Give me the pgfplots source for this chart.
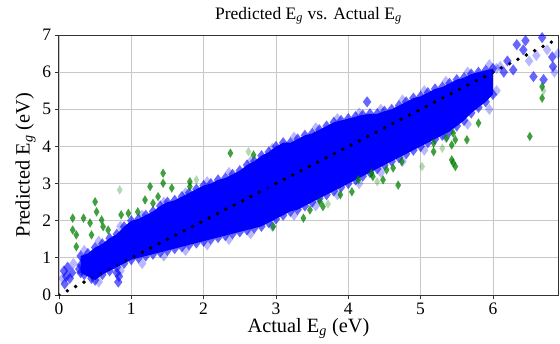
\documentclass[border=0pt]{standalone}
\usepackage{pgfplots}
\pgfplotsset{compat=1.18}
\usepackage{fontspec}
\setmainfont{Liberation Serif}
\definecolor{gridgray}{RGB}{200,200,200}
\definecolor{mgreen}{RGB}{0,128,0}
\newcommand{\Eg}{E\textsubscript{\textit{g}}}
\begin{document}
\begin{tikzpicture}
\begin{axis}[
  scale only axis,
  width=356.4pt, height=185.7pt,
  xmin=0, xmax=6.9, ymin=0, ymax=7,
  xtick={0,1,2,3,4,5,6}, ytick={0,1,2,3,4,5,6,7},
  grid=major,
  grid style={gridgray, line width=0.6pt},
  axis line style={black!80, line width=0.7pt},
  tick align=outside, tick pos=left,
  major tick length=3pt,
  tick style={black!80, line width=0.6pt},
  /pgf/number format/assume math mode=true,
  tick label style={font=\fontsize{12.5}{13}\selectfont},
  xticklabel style={yshift=1pt},
  yticklabel style={xshift=1pt},
  title={Predicted \Eg{} vs. Actual \Eg},
  title style={font=\fontsize{12.5}{14}\selectfont, yshift=-2pt},
  xlabel={Actual \Eg{} (eV)},
  ylabel={Predicted \Eg{} (eV)},
  label style={font=\fontsize{14.5}{16}\selectfont},
  xlabel style={yshift=4pt},
  ylabel style={yshift=-2pt},
  clip=true,
]
\coordinate (A) at (rel axis cs:0,0);
\coordinate (B) at (rel axis cs:1,1);
% dense core of the blue cloud
\addplot[fill=blue, draw=none] coordinates {
(0.3,1.05)(0.4,1.12)(0.5,1.28)(0.6,1.38)(0.7,1.53)(0.8,1.64)(0.9,1.84)(1.0,2.0)
(1.1,2.05)(1.2,2.15)(1.3,2.25)(1.4,2.4)(1.5,2.5)(1.6,2.55)(1.7,2.65)(1.8,2.75)
(1.9,2.85)(2.0,2.95)(2.1,3.0)(2.2,3.1)(2.3,3.15)(2.4,3.25)(2.5,3.35)(2.6,3.5)
(2.7,3.6)(2.8,3.75)(2.9,3.85)(3.0,4.0)(3.1,4.1)(3.2,4.1)(3.3,4.2)(3.4,4.3)
(3.5,4.35)(3.6,4.45)(3.7,4.55)(3.8,4.65)(3.9,4.7)(4.0,4.75)(4.1,4.8)(4.2,4.85)
(4.3,4.88)(4.4,4.88)(4.5,4.95)(4.6,5.0)(4.7,5.1)(4.8,5.2)(4.9,5.3)(5.0,5.35)
(5.1,5.45)(5.2,5.55)(5.3,5.6)(5.4,5.7)(5.5,5.8)(5.6,5.85)(5.7,5.95)(5.8,6.0)
(5.9,6.05)(6.0,6.1)
(6.0,5.4)(5.9,5.2)(5.8,5.05)(5.7,4.9)(5.6,4.7)(5.5,4.55)(5.4,4.4)(5.3,4.3)
(5.2,4.2)(5.1,4.1)(5.0,4.0)(4.9,3.9)(4.8,3.8)(4.7,3.7)(4.6,3.6)(4.5,3.5)
(4.4,3.4)(4.3,3.3)(4.2,3.2)(4.1,3.1)(4.0,3.0)(3.9,2.9)(3.8,2.8)(3.7,2.7)
(3.6,2.6)(3.5,2.5)(3.4,2.4)(3.3,2.3)(3.2,2.25)(3.1,2.15)(3.0,2.05)(2.9,1.95)
(2.8,1.85)(2.7,1.8)(2.6,1.75)(2.5,1.7)(2.4,1.65)(2.3,1.6)(2.2,1.55)(2.1,1.5)
(2.0,1.45)(1.9,1.4)(1.8,1.35)(1.7,1.3)(1.6,1.25)(1.5,1.2)(1.4,1.15)(1.3,1.1)
(1.2,1.05)(1.1,1.0)(1.0,0.95)(0.9,0.85)(0.8,0.75)(0.7,0.65)(0.6,0.55)(0.5,0.4)
(0.45,0.45)(0.35,0.55)(0.3,0.6)
} -- cycle;
% blue points on the edge of the cloud
\addplot[only marks, mark=diamond*, color=blue, mark size=4pt,
  mark options={draw opacity=0, fill=blue, fill opacity=0.6}] coordinates {
(0.3,1.05)(0.4,1.12)(0.5,1.28)(0.6,1.38)(0.7,1.53)(0.8,1.64)(0.9,1.84)(1.0,2.0)
(1.1,2.05)(1.2,2.15)(1.3,2.25)(1.4,2.4)(1.5,2.5)(1.6,2.55)(1.7,2.65)(1.8,2.75)
(1.9,2.85)(2.0,2.95)(2.1,3.0)(2.2,3.1)(2.3,3.15)(2.4,3.25)(2.5,3.35)(2.6,3.5)
(2.7,3.6)(2.8,3.75)(2.9,3.85)(3.0,4.0)(3.1,4.1)(3.2,4.1)(3.3,4.2)(3.4,4.3)
(3.5,4.35)(3.6,4.45)(3.7,4.55)(3.8,4.65)(3.9,4.7)(4.0,4.75)(4.1,4.8)(4.2,4.85)
(4.3,4.88)(4.4,4.88)(4.5,4.95)(4.6,5.0)(4.7,5.1)(4.8,5.2)(4.9,5.3)(5.0,5.35)
(5.1,5.45)(5.2,5.55)(5.3,5.6)(5.4,5.7)(5.5,5.8)(5.6,5.85)(5.7,5.95)(5.8,6.0)
(5.9,6.05)(6.0,6.1)
(6.0,5.4)(5.9,5.2)(5.8,5.05)(5.7,4.9)(5.6,4.7)(5.5,4.55)(5.4,4.4)(5.3,4.3)
(5.2,4.2)(5.1,4.1)(5.0,4.0)(4.9,3.9)(4.8,3.8)(4.7,3.7)(4.6,3.6)(4.5,3.5)
(4.4,3.4)(4.3,3.3)(4.2,3.2)(4.1,3.1)(4.0,3.0)(3.9,2.9)(3.8,2.8)(3.7,2.7)
(3.6,2.6)(3.5,2.5)(3.4,2.4)(3.3,2.3)(3.2,2.25)(3.1,2.15)(3.0,2.05)(2.9,1.95)
(2.8,1.85)(2.7,1.8)(2.6,1.75)(2.5,1.7)(2.4,1.65)(2.3,1.6)(2.2,1.55)(2.1,1.5)
(2.0,1.45)(1.9,1.4)(1.8,1.35)(1.7,1.3)(1.6,1.25)(1.5,1.2)(1.4,1.15)(1.3,1.1)
(1.2,1.05)(1.1,1.0)(1.0,0.95)(0.9,0.85)(0.8,0.75)(0.7,0.65)(0.6,0.55)(0.5,0.4)
(0.45,0.45)(0.35,0.55)(0.3,0.6)(0.3,0.8)(0.35,0.95)
(0.08,0.3)(0.1,0.5)(0.12,0.75)(0.15,0.45)(0.07,0.65)(0.18,0.6)(0.82,0.35)(0.83,0.5)
(0.8,0.6)(0.28,0.7)(4.26,5.2)(2.9,2.9)
(6.15,6.0)(6.28,6.06)(6.33,6.74)(6.42,6.6)(6.68,6.93)(6.56,5.88)(6.7,5.8)
(6.82,6.41)(6.83,6.15)(6.2,6.3)(6.45,6.85)
};
% faint blue points just outside the cloud
\addplot[only marks, mark=diamond*, color=blue, mark size=4pt,
  mark options={draw opacity=0, fill=blue, fill opacity=0.28}] coordinates {
(0.35,1.2)(0.55,1.45)(0.85,1.85)(1.15,2.15)(1.45,2.5)(1.75,2.75)(2.05,3.05)
(2.35,3.3)(2.65,3.6)(2.95,3.95)(3.25,4.25)(3.55,4.5)(3.85,4.75)(4.15,4.9)
(4.45,5.0)(4.75,5.25)(5.05,5.5)(5.35,5.75)(5.65,6.0)(5.95,6.2)(6.1,6.15)
(0.55,0.35)(0.85,0.65)(1.15,0.85)(1.45,1.05)(1.75,1.2)(2.05,1.35)(2.35,1.5)
(2.65,1.65)(2.95,1.85)(3.25,2.15)(3.55,2.4)(3.85,2.7)(4.15,3.0)(4.45,3.3)
(4.75,3.6)(5.05,3.9)(5.35,4.25)(5.65,4.6)(5.95,5.0)(6.05,5.5)
(6.05,6.1)(6.5,6.3)(6.75,6.6)(6.6,6.45)(6.85,6.0)(6.9,6.5)(0.2,0.85)(0.05,0.45)
};
% green outliers
\addplot[only marks, mark=diamond*, color=mgreen, mark size=3.4pt,
  mark options={draw opacity=0, fill=mgreen, fill opacity=0.75, xscale=0.8}] coordinates {
(0.19,2.07)(0.19,1.75)(0.24,1.3)(0.24,1.62)(0.34,2.07)(0.43,1.94)(0.45,1.62)(0.5,2.51)
(0.52,2.24)(0.59,2.02)(0.61,1.84)(0.68,1.75)(0.86,2.16)(0.96,2.2)(1.09,2.24)(1.19,2.56)
(1.26,2.92)(1.3,2.47)(1.37,2.65)(1.44,3.28)(1.44,3.01)(1.56,2.88)(1.81,3.05)(1.81,2.92)
(2.37,3.82)(2.69,3.77)
(2.96,1.84)(3.38,2.07)(3.47,2.29)(3.61,2.51)(3.65,2.38)(3.89,2.7)(4.05,2.78)(4.14,3.1)
(4.32,3.28)(4.34,3.19)(4.48,3.1)(4.53,3.37)(4.62,3.42)(4.69,2.96)(4.74,3.59)(5.18,4.09)
(5.18,3.86)(5.43,3.64)(5.45,3.56)(5.48,3.46)(5.36,4.23)(5.45,4.36)(5.43,4.04)(6.51,4.27)
(5.8,4.63)(5.64,4.18)(5.48,4.18)(6.68,5.61)(6.68,5.3)
};
% faint green outliers
\addplot[only marks, mark=diamond*, color=mgreen, mark size=3.4pt,
  mark options={draw opacity=0, fill=mgreen, fill opacity=0.3, xscale=0.8}] coordinates {
(0.84,2.83)(1.9,3.1)(2.62,3.86)(5.02,3.46)(3.72,2.45)(4.4,3.05)(5.3,3.95)(6.7,5.5)
};
% identity line
\addplot[black, line width=2.8pt, line cap=round, dash pattern=on 0pt off 6.7pt]
  coordinates {(0,0)(7,7)};
\end{axis}
\pgfresetboundingbox
\path ([shift={(-42.1pt,-34.3pt)}]A) rectangle ([shift={(1.4pt,25pt)}]B);
\end{tikzpicture}
\end{document}
